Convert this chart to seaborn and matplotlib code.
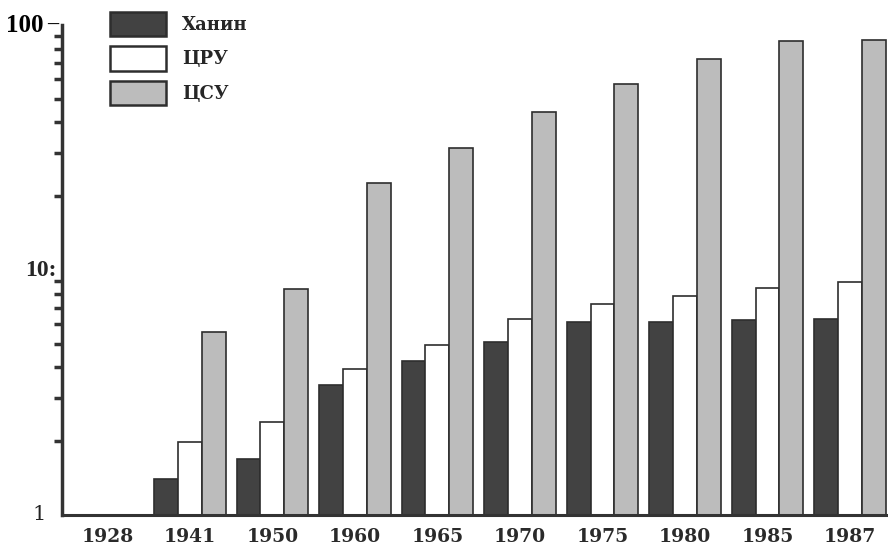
import numpy as np
import pandas as pd
import matplotlib
matplotlib.use("Agg")
import matplotlib.pyplot as plt
import seaborn as sns
from matplotlib.ticker import LogLocator, NullFormatter

# values
years = ['1928', '1941', '1950', '1960', '1965', '1970', '1975', '1980', '1985', '1987']
sources = ['Ханин', 'ЦРУ', 'ЦСУ']
khanin = [np.nan, 1.40, 1.69, 3.39, 4.27, 5.08, 6.13, 6.13, 6.23, 6.30]
cru = [np.nan, 1.99, 2.40, 3.94, 4.92, 6.30, 7.28, 7.85, 8.47, 8.90]
csu = [np.nan, 5.58, 8.34, 22.6, 31.4, 44.0, 57.3, 72.6, 85.7, 86.8]
colors = {'Ханин': '#424242', 'ЦРУ': '#ffffff', 'ЦСУ': '#bcbcbc'}

df = pd.DataFrame({
    'year': years * 3,
    'source': ['Ханин'] * len(years) + ['ЦРУ'] * len(years) + ['ЦСУ'] * len(years),
    'value': khanin + cru + csu,
})

sns.set_style("white")
plt.rcParams['font.family'] = ['DejaVu Serif']

fig = plt.figure(figsize=(8.88, 5.51), dpi=100)
ax = fig.add_axes([62 / 888, 1 - 515 / 551, 1 - 62 / 888, (515 - 25) / 551])

sns.barplot(data=df, x='year', y='value', hue='source', order=years, hue_order=sources,
            palette=colors, width=0.87, edgecolor='#2e2e2e', linewidth=1.2,
            errorbar=None, ax=ax)

ax.set_yscale('log')
ax.set_ylim(1, 100)
ax.set_xlim(-0.55, 9.46)
ax.set_xlabel('')
ax.set_ylabel('')

# y axis: only minor ticks drawn, labels placed as text
ax.set_yticks([1, 10, 100])
ax.set_yticklabels([])
ax.yaxis.set_minor_locator(LogLocator(base=10, subs=range(2, 10)))
ax.yaxis.set_minor_formatter(NullFormatter())
ax.tick_params(axis='y', which='major', length=0)
ax.tick_params(axis='y', which='minor', length=6, width=2.5, color='#333333', direction='out', left=True)
ax.tick_params(axis='x', length=0, pad=9)

trans = ax.get_yaxis_transform()
ax.text(-0.068, 100, '100', transform=trans, ha='left', va='center',
        family=['Liberation Serif', 'DejaVu Serif'], fontweight='bold', fontsize=18,
        color='black', clip_on=False, zorder=5)
ax.text(-0.005, 100, '\u2013', transform=trans, ha='right', va='center',
        family=['Liberation Serif', 'DejaVu Serif'], fontweight='bold', fontsize=16,
        color='black', clip_on=False, zorder=5)
ax.text(-0.007, 10, '10:', transform=trans, ha='right', va='center',
        family=['Liberation Serif', 'DejaVu Serif'], fontweight='bold', fontsize=17, clip_on=False)
ax.text(-0.019, 1, '1', transform=trans, ha='right', va='center',
        family='DejaVu Serif', fontsize=15, color='#222222', clip_on=False)

for lab in ax.get_xticklabels():
    lab.set_fontsize(13.5)
    lab.set_fontweight('bold')
    lab.set_color('#2a2a2a')

sns.despine(ax=ax, top=True, right=True)
ax.spines['left'].set_linewidth(2.5)
ax.spines['bottom'].set_linewidth(2.2)
ax.spines['left'].set_color('#333333')
ax.spines['bottom'].set_color('#333333')

handles, labels = ax.get_legend_handles_labels()
for h in handles:
    h.set_edgecolor('#2e2e2e')
    h.set_linewidth(1.8)
ax.legend(handles, labels, loc='upper left', bbox_to_anchor=(110 / 888, 1 - 12 / 551),
          bbox_transform=fig.transFigure, frameon=False, borderpad=0, borderaxespad=0,
          handlelength=3.1, handleheight=1.7, handletextpad=0.9, labelspacing=0.55,
          prop={'family': 'DejaVu Serif', 'weight': 'bold', 'size': 13})

fig.savefig('out.png', dpi=100, facecolor='white')
